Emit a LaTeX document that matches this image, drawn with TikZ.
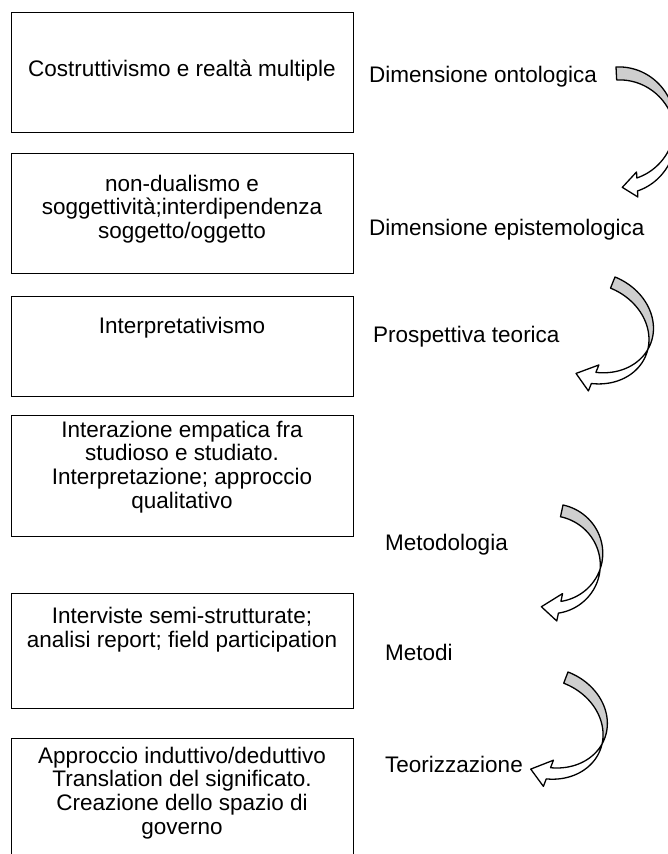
\documentclass[tikz,border=0pt]{standalone}
\usepackage{fontspec}
\setmainfont{Liberation Sans}
\definecolor{backgray}{RGB}{206,206,206}
\tikzset{
  box/.style={draw=black, line width=1.2pt, minimum width=342pt, minimum height=120pt, anchor=north west, inner sep=0pt},
  boxtext/.style={align=center, inner sep=0pt, font=\fontsize{22.5}{23.8}\selectfont},
  lbl/.style={anchor=west, inner sep=0pt, font=\fontsize{22.5}{23.8}\selectfont},
  arline/.style={draw=black, line width=1.3pt, line join=round},
}
% curved arrow shape: #1,#2 tail top, #3 rotation, #4 width, #5 half height, #6 band, #7 head width, #8 head length
\newcommand{\curvarrow}[8]{%
\begin{scope}[shift={(#1,#2)}, rotate=#3]
\pgfmathsetmacro{\arW}{#4}
\pgfmathsetmacro{\arhR}{#5}
\pgfmathsetmacro{\arth}{#6}
\pgfmathsetmacro{\araw}{#7}
\pgfmathsetmacro{\arah}{#8}
\pgfmathsetmacro{\artca}{acos(-\arth/(2*\arhR))}
\pgfmathsetmacro{\artcb}{acos(\arth/(2*\arhR))}
\pgfmathsetmacro{\arte}{180-asin(\arah/\arW)}
\pgfmathsetmacro{\ardy}{\arhR*sqrt(1-(\arah/\arW)^2)}
\pgfmathsetmacro{\aryf}{\arhR+\ardy}
\pgfmathsetmacro{\arys}{\arhR+\arth+\ardy}
\pgfmathsetmacro{\ardh}{(\araw-\arth)/2}
\pgfmathsetmacro{\aryt}{2*\arhR+\arth/2}
\fill[white] plot[domain=\artca:\arte, samples=40, variable=\ang] ({\arW*sin(\ang)},{\arhR-\arhR*cos(\ang)})
  -- (\arah,\aryf) -- (\arah,\aryf-\ardh) -- (0,\aryt) -- (\arah,\arys+\ardh) -- (\arah,\arys)
  -- plot[domain=\arte:\artcb, samples=40, variable=\ang] ({\arW*sin(\ang)},{\arhR+\arth-\arhR*cos(\ang)}) -- cycle;
\fill[backgray] plot[domain=0:\artca, samples=50, variable=\ang] ({\arW*sin(\ang)},{\arhR-\arhR*cos(\ang)})
  -- ({\arW*sin(\artca)},{\arhR-\arhR*cos(\artca)})
  -- plot[domain=\artcb:0, samples=50, variable=\ang] ({\arW*sin(\ang)},{\arhR+\arth-\arhR*cos(\ang)})
  -- (0,\arth) -- cycle;
\draw[arline] plot[domain=0:\arte, samples=80, variable=\ang] ({\arW*sin(\ang)},{\arhR-\arhR*cos(\ang)})
  -- (\arah,\aryf) -- (\arah,\aryf-\ardh) -- (0,\aryt) -- (\arah,\arys+\ardh) -- (\arah,\arys)
  -- plot[domain=\arte:0, samples=80, variable=\ang] ({\arW*sin(\ang)},{\arhR+\arth-\arhR*cos(\ang)})
  -- (0,\arth) -- cycle;
\end{scope}}
\begin{document}
\begin{tikzpicture}[x=1pt,y=-1pt]
\useasboundingbox (0,0) rectangle (668,854);
\clip (0,0) rectangle (668,854);
\fill[white] (0,0) rectangle (668,854);
% boxes
\node[box] (b1) at (11,12) {};
\node[box] (b2) at (11,153) {};
\node[box, minimum height=100pt] (b3) at (11,296) {};
\node[box, minimum height=121pt] (b4) at (11,415) {};
\node[box, minimum height=115pt] (b5) at (11,593) {};
\node[box] (b6) at (11,738) {};
% box texts
\node[boxtext] (t1) at (182,71) {Costruttivismo e realtà multiple};
\node[boxtext] (t2) at (182,209) {non-dualismo e\\soggettività;interdipendenza\\soggetto/oggetto};
\node[boxtext] (t3) at (182,328) {Interpretativismo};
\node[boxtext] (t4) at (182,467) {Interazione empatica fra\\studioso e studiato.\\Interpretazione; approccio\\qualitativo};
\node[boxtext] (t5) at (182,630) {Interviste semi-strutturate;\\analisi report; field participation};
\node[boxtext] (t6) at (182,793) {Approccio induttivo/deduttivo\\Translation del significato.\\Creazione dello spazio di\\governo};
% labels
\node[lbl] (l1) at (369,77) {Dimensione ontologica};
\node[lbl] (l2) at (369,230) {Dimensione epistemologica};
\node[lbl] (l3) at (373,337) {Prospettiva teorica};
\node[lbl] (l4) at (385,545) {Metodologia};
\node[lbl] (l5) at (385,652) {Metodi};
\node[lbl] (l6) at (385,764) {Teorizzazione};
% curved arrows
\curvarrow{616}{67}{3}{56}{57}{13}{25}{15}
\curvarrow{615}{277}{-22}{58}{49}{12}{28}{18}
\curvarrow{563}{505}{-12}{50}{49}{12}{28}{18}
\curvarrow{568}{672}{-21}{58}{49}{12}{28}{18}
\end{tikzpicture}
\end{document}
